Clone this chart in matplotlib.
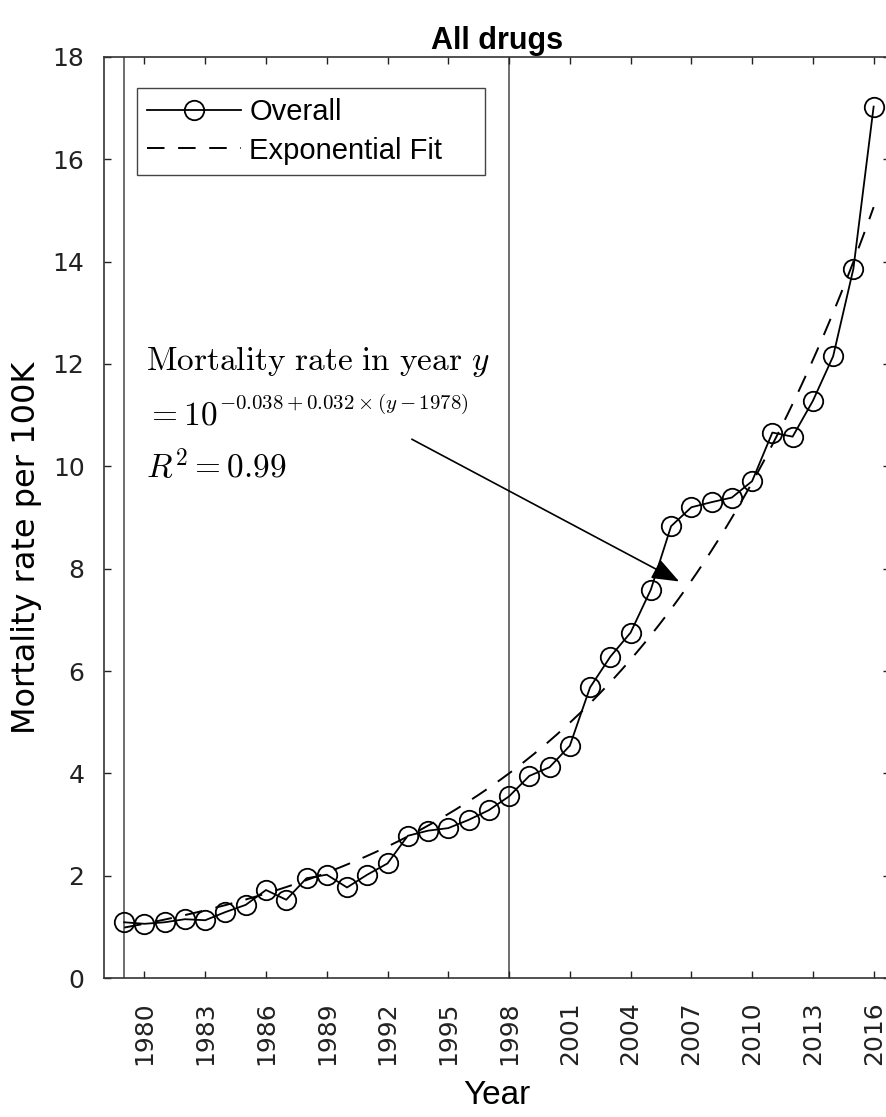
import numpy as np
import matplotlib
matplotlib.use('Agg')
import matplotlib.pyplot as plt
from matplotlib import font_manager

# data
years = np.arange(1979, 2017)
rates = [1.09, 1.06, 1.09, 1.15, 1.13, 1.29, 1.43, 1.72, 1.53, 1.95,
         2.02, 1.77, 2.02, 2.24, 2.78, 2.88, 2.93, 3.09, 3.28, 3.55,
         3.95, 4.12, 4.54, 5.68, 6.28, 6.75, 7.59, 8.83, 9.20, 9.30,
         9.39, 9.71, 10.66, 10.58, 11.28, 12.15, 13.86, 17.03]
xticks = np.arange(1980, 2017, 3)
yticks = np.arange(0, 19, 2)
vlines = [1979, 1998]

# exponential fit coefficients shown on the chart
fit_a = -0.038
fit_b = 0.032
fit_base = 1978

plt.rcParams['font.family'] = ['Liberation Sans', 'DejaVu Sans']
plt.rcParams['mathtext.fontset'] = 'cm'

names = {f.name for f in font_manager.fontManager.ttflist}
title_font = 'Liberation Sans Narrow' if 'Liberation Sans Narrow' in names else 'Liberation Sans'

fig = plt.figure(figsize=(8.87, 11.17), dpi=100)
ax = fig.add_axes([0.1172, 0.1244, 0.886, 0.8246])

for v in vlines:
    ax.axvline(v, color='#555555', lw=1.2, zorder=1)

fit_x = np.linspace(years[0], years[-1], 200)
fit_y = 10 ** (fit_a + fit_b * (fit_x - fit_base))

ax.plot(years, rates, '-o', color='black', lw=1.3, ms=14, mfc='none',
        mew=1.3, label='Overall', zorder=3)
ax.plot(fit_x, fit_y, color='black', lw=1.4, ls=(0, (9, 7)),
        label='Exponential Fit', zorder=2)

ax.set_xlim(1978, 2016.8)
ax.set_ylim(0, 18)
ax.set_xticks(xticks)
ax.set_xticklabels([str(t) for t in xticks], rotation=90, family='DejaVu Sans')
ax.set_yticks(yticks)
ax.set_yticklabels([str(t) for t in yticks], family='DejaVu Sans')
ax.tick_params(direction='in', length=5, width=1, top=True, right=True,
               labelsize=18, colors='#222222')
ax.tick_params(axis='y', pad=14)
ax.tick_params(axis='x', pad=17)
for s in ax.spines.values():
    s.set_color('#333333')
    s.set_linewidth(1.2)

ax.set_ylabel('Mortality rate per 100K', fontsize=23, family='DejaVu Sans')
ax.yaxis.set_label_coords(-0.079, 0.467)
ax.set_xlabel('Year', fontsize=24)
ax.xaxis.set_label_coords(0.5, -0.111)
ax.set_title('All drugs', fontsize=22, fontweight='bold', family=title_font, pad=6)

leg = ax.legend(loc='upper left', bbox_to_anchor=(0.042, 0.866, 0.4427, 0.1),
                mode='expand', borderaxespad=0,
                fontsize=21, handlelength=3.2, handletextpad=0.3, labelspacing=0.35,
                borderpad=0.35, fancybox=False, framealpha=1, edgecolor='#444444')
leg.get_frame().set_linewidth(1.0)

ax.text(1980.1, 12.05, r'$\mathrm{Mortality\ rate\ in\ year}\ y$', fontsize=24, va='center')
base = ax.text(1980.1, 10.98, r'$= 10$', fontsize=24, va='center')
ax.annotate(r'$-0.038+0.032\times(y-1978)$', xy=(1.0, 0.5), xycoords=base,
            xytext=(1, 0), textcoords='offset points', fontsize=15, va='bottom', ha='left')
ax.text(1980.1, 9.98, r'$R^2 = 0.99$', fontsize=24, va='center')

ax.annotate('', xy=(2006.4, 7.75), xytext=(1993.2, 10.53),
            arrowprops=dict(arrowstyle='-|>,head_length=1.3,head_width=0.5',
                            color='black', lw=1.2, mutation_scale=13,
                            shrinkA=0, shrinkB=0))

fig.savefig('out.png', dpi=100)
